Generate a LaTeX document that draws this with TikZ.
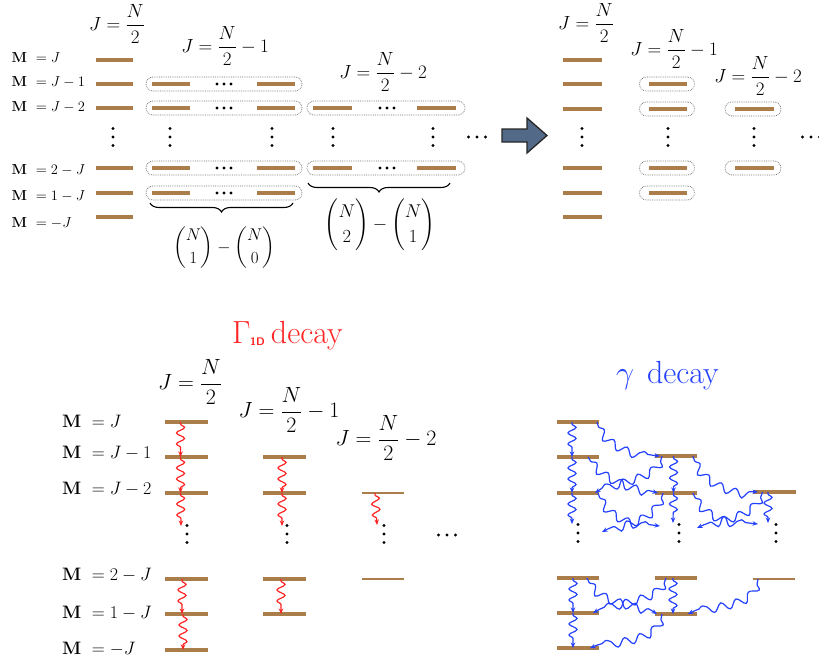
\RequirePackage{fix-cm}
\documentclass[tikz,border=0pt]{standalone}
\usepackage{amsmath}
\usetikzlibrary{decorations.pathmorphing,decorations.pathreplacing,arrows.meta}
\definecolor{brn}{RGB}{170,125,75}
\definecolor{wred}{RGB}{255,35,35}
\definecolor{wblue}{RGB}{35,65,255}
\definecolor{arrfill}{RGB}{82,106,136}
\tikzset{
  lvlbar/.style={fill=brn,inner sep=0pt,minimum height=3.2pt,minimum width=#1},
  lvlbar/.default=38pt,
  dbox/.style={draw=black!55,dash pattern=on 0.8pt off 1pt,line width=0.7pt,rounded corners=7pt,minimum height=14pt,inner sep=0pt},
  vdotsp/.pic={\foreach \k in {-8.5,0,8.5} \fill (0,\k) circle (1.7pt);},
  hdotsp/.pic={\foreach \k in {-8.5,0,8.5} \fill (\k,0) circle (1.7pt);},
  bdotsp/.pic={\foreach \k in {-7,0,7} \fill (\k,0) circle (1.6pt);},
  mlab/.style={font=\fontsize{14.5}{16}\selectfont,inner sep=0pt,anchor=base west},
  mlabB/.style={font=\fontsize{18}{20}\selectfont,inner sep=0pt,anchor=base west},
  jlab/.style={font=\fontsize{19}{22}\selectfont,inner sep=0pt},
  jlabB/.style={font=\fontsize{22}{26}\selectfont,inner sep=0pt},
  bigarrow/.style={fill=arrfill,draw=black!85,line width=1.3pt,line join=miter},
  brc/.style={decorate,decoration={brace,mirror,amplitude=9pt},line width=1.1pt},
  wavyR/.style={draw=wred,line width=1.2pt,decorate,decoration={snake,amplitude=4pt,segment length=11pt,pre length=2pt,post length=5pt},-{Stealth[length=5.5pt,width=4.5pt]}},
  wavyB/.style={draw=wblue,line width=1.2pt,decorate,decoration={snake,amplitude=4pt,segment length=11pt,pre length=2pt,post length=5pt},-{Stealth[length=5.5pt,width=4.5pt]}},
  wavyD/.style={draw=wblue,line width=1.2pt,decorate,decoration={snake,amplitude=4pt,segment length=16pt,pre length=5pt,post length=7pt},-{Stealth[length=5.5pt,width=4.5pt]}},
}
\begin{document}
\begin{tikzpicture}[x=1pt,y=-1pt]
\fill[white] (0,0) rectangle (819,664);
\useasboundingbox (0,0) rectangle (819,664);

%% ---------------- top left ----------------
\node[jlab] (ja) at (117,24) {$J=\dfrac{N}{2}$};
\node[jlab] (jb) at (225,46) {$J=\dfrac{N}{2}-1$};
\node[jlab] (jc) at (383,72) {$J=\dfrac{N}{2}-2$};

\node[mlab] (la1) at (11.5,62) {$\mathbf{M}\ = J$};
\node[mlab] (la2) at (11.5,86) {$\mathbf{M}\ = J-1$};
\node[mlab] (la3) at (11.5,111) {$\mathbf{M}\ = J-2$};
\node[mlab] (la4) at (11.5,174) {$\mathbf{M}\ = 2-J$};
\node[mlab] (la5) at (11.5,200) {$\mathbf{M}\ = 1-J$};
\node[mlab] (la6) at (11.5,227) {$\mathbf{M}\ = -J$};

\foreach \n/\y in {1/60,2/84,3/108,4/168,5/193,6/217}
  \node[lvlbar=37pt] (a\n) at (114.5,\y) {};

\foreach \n/\y in {2/84,3/108,4/168,5/193}{
  \node[dbox,minimum width=156pt] (bx\n) at (224,\y) {};
  \node[lvlbar] (bl\n) at (171,\y) {};
  \node[lvlbar] (br\n) at (276,\y) {};
  \pic (bd\n) at (224,\y) {bdotsp};
}
\foreach \n/\y in {3/108,4/168}{
  \node[dbox,minimum width=158pt] (cx\n) at (386,\y) {};
  \node[lvlbar=39pt] (cl\n) at (332.5,\y) {};
  \node[lvlbar=39pt] (cr\n) at (436.5,\y) {};
  \pic (cd\n) at (387,\y) {bdotsp};
}
\pic (va1) at (113,137) {vdotsp};
\pic (va2) at (170,137) {vdotsp};
\pic (va3) at (272,137) {vdotsp};
\pic (va4) at (333,137) {vdotsp};
\pic (va5) at (433,137) {vdotsp};
\pic (ha1) at (477,137) {hdotsp};

\coordinate (b1s) at (150,203);
\coordinate (b1e) at (293,203);
\coordinate (b2s) at (308,183);
\coordinate (b2e) at (450,183);
\draw[brc] (b1s) -- (b1e);
\draw[brc] (b2s) -- (b2e);
\node[font=\fontsize{17}{20}\selectfont,inner sep=0pt] (bin1) at (224,248) {$\dbinom{N}{1}-\dbinom{N}{0}$};
\node[font=\fontsize{18.5}{22}\selectfont,inner sep=0pt] (bin2) at (380,225) {$\dbinom{N}{2}-\dbinom{N}{1}$};

%% ---------------- big arrow ----------------
\draw[bigarrow] (502,129) -- (527,129) -- (527,118) -- (547,135.5) -- (527,153) -- (527,142) -- (502,142) -- cycle;

%% ---------------- top right ----------------
\node[jlab] (jd) at (586,23) {$J=\dfrac{N}{2}$};
\node[jlab] (je) at (674,49) {$J=\dfrac{N}{2}-1$};
\node[jlab] (jf) at (758,76) {$J=\dfrac{N}{2}-2$};
\foreach \n/\y in {1/60,2/84,3/109,4/168,5/193,6/217}
  \node[lvlbar=39pt] (c\n) at (582.5,\y) {};
\foreach \n/\y in {2/84,3/109,4/168,5/193}{
  \node[dbox,minimum width=55pt] (dx\n) at (667,\y) {};
  \node[lvlbar] (dl\n) at (668,\y) {};
}
\foreach \n/\y in {3/109,4/168}{
  \node[dbox,minimum width=56pt] (ex\n) at (753,\y) {};
  \node[lvlbar=39pt] (el\n) at (754.5,\y) {};
}
\pic (vb1) at (582,137) {vdotsp};
\pic (vb2) at (668,137) {vdotsp};
\pic (vb3) at (754,137) {vdotsp};
\pic (hb1) at (811,137) {hdotsp};

%% ---------------- bottom left ----------------
\node[font=\fontsize{32}{36}\selectfont,text=wred,anchor=base west,inner sep=0pt] (gtitle) at (232,343)
  {$\Gamma$\kern-0.5pt\raisebox{-2.5pt}{\fontsize{11}{11}\selectfont\sffamily\bfseries 1D}\kern6pt decay};
\node[jlabB] (jg) at (190,382) {$J=\dfrac{N}{2}$};
\node[jlabB] (jh) at (289,410) {$J=\dfrac{N}{2}-1$};
\node[jlabB] (ji) at (386,438) {$J=\dfrac{N}{2}-2$};

\node[mlabB] (lb1) at (62,427) {$\mathbf{M}\ = J$};
\node[mlabB] (lb2) at (62,458) {$\mathbf{M}\ = J-1$};
\node[mlabB] (lb3) at (62,494) {$\mathbf{M}\ = J-2$};
\node[mlabB] (lb4) at (62,580) {$\mathbf{M}\ = 2-J$};
\node[mlabB] (lb5) at (62,618) {$\mathbf{M}\ = 1-J$};
\node[mlabB] (lb6) at (62,654) {$\mathbf{M}\ = -J$};

\foreach \n/\y in {1/422,2/457,3/493,4/579,5/614,6/650}
  \node[lvlbar=43pt,minimum height=3.8pt] (r1\n) at (186.5,\y) {};
\foreach \n/\y in {2/457,3/493,4/579,5/614}
  \node[lvlbar=43pt,minimum height=3.8pt] (r2\n) at (284.5,\y) {};
\foreach \n/\y in {3/493,4/579}
  \node[lvlbar=42pt,minimum height=2.8pt] (r3\n) at (383,\y) {};
\pic (vc1) at (187,534) {vdotsp};
\pic (vc2) at (287,534) {vdotsp};
\pic (vc3) at (384,534) {vdotsp};
\pic (hc1) at (447,535) {hdotsp};
\coordinate (rc1) at (181,526);
\coordinate (rc2) at (282,526);
\coordinate (rc3) at (377,525);

\draw[wavyR] ([xshift=-6]r11.center) -- ([xshift=-6]r12.center);
\draw[wavyR] ([xshift=-6]r12.center) -- ([xshift=-6]r13.center);
\draw[wavyR] ([xshift=-6]r13.center) -- (rc1);
\draw[wavyR] ([xshift=-2.5]r22.center) -- ([xshift=-2.5]r23.center);
\draw[wavyR] ([xshift=-2.5]r23.center) -- (rc2);
\draw[wavyR] ([xshift=-8]r33.center) -- (rc3);
\draw[wavyR] ([xshift=-4.5]r14.center) -- ([xshift=-4.5]r15.center);
\draw[wavyR] ([xshift=-3.5]r15.center) -- ([xshift=-3.5]r16.center);
\draw[wavyR] ([xshift=-3.5]r24.center) -- ([xshift=-3.5]r25.center);

%% ---------------- bottom right ----------------
\node[font=\fontsize{32}{36}\selectfont,text=wblue,anchor=base west,inner sep=0pt] (gdec) at (616,383)
  {$\gamma$\hspace{0.4em}decay};
\foreach \n/\y in {1/422,2/457,3/493,4/578,5/613,6/648}
  \node[lvlbar=42pt,minimum height=3.8pt] (g1\n) at (578,\y) {};
\foreach \n/\y in {2/456,3/493,4/578,5/614}
  \node[lvlbar=42pt,minimum height=3.8pt] (g2\n) at (676,\y) {};
\node[lvlbar=43pt,minimum height=3.8pt] (g33) at (774.5,492) {};
\node[lvlbar=42pt,minimum height=2.8pt] (g34) at (773.5,579) {};
\pic (vd1) at (578,533) {vdotsp};
\pic (vd2) at (679,533) {vdotsp};
\pic (vd3) at (776,533) {vdotsp};

\coordinate (gc1) at (572,524);
\coordinate (gc2) at (673,523);
\coordinate (gc3) at (768,523);
\coordinate (e5) at (660,526);
\coordinate (e6) at (602,532);
\coordinate (e7) at (758,524);
\coordinate (e8) at (697,528);

\draw[wavyB] ([xshift=-6]g11.center) -- ([xshift=-6]g12.center);
\draw[wavyB] ([xshift=-6]g12.center) -- ([xshift=-6]g13.center);
\draw[wavyB] ([xshift=-6]g13.center) -- (gc1);
\draw[wavyB] ([xshift=-2.5]g22.center) -- ([xshift=-2.5]g23.center);
\draw[wavyB] ([xshift=-2.5]g23.center) -- (gc2);
\draw[wavyB] ([xshift=-6.5]g33.center) -- (gc3);
\draw[wavyB] ([xshift=-5]g14.center) -- ([xshift=-5]g15.center);
\draw[wavyB] ([xshift=-5]g15.center) -- ([xshift=-5]g16.center);
\draw[wavyB] ([xshift=-3]g24.center) -- ([xshift=-3]g25.center);

\draw[wavyD] ([xshift=19]g11.center) .. controls (600,442) and (640,455) .. ([xshift=-16]g22.center);
\draw[wavyD] ([xshift=10]g12.center) .. controls (598,478) and (640,488) .. ([xshift=-18]g23.center);
\draw[wavyD] ([xshift=-14]g22.center) .. controls (660,478) and (612,478) .. ([xshift=17]g13.center);
\draw[wavyD] ([xshift=17]g22.center) .. controls (698,480) and (735,492) .. ([xshift=-16.5]g33.center);
\draw[wavyD] ([xshift=20]g13.center) .. controls (604,516) and (640,524) .. (e5);
\draw[wavyD] ([xshift=-13]g23.center) .. controls (657,520) and (622,520) .. (e6);
\draw[wavyD] ([xshift=17]g23.center) .. controls (700,515) and (735,522) .. (e7);
\draw[wavyD] ([xshift=-12]g33.center) .. controls (757,515) and (722,515) .. (e8);
\draw[wavyD] ([xshift=9]g14.center) .. controls (595,602) and (640,600) .. ([xshift=-19]g25.center);
\draw[wavyD] ([xshift=-10]g24.center) .. controls (662,600) and (615,598) .. ([xshift=15]g15.center);
\draw[wavyD] ([xshift=-15.5]g34.center) .. controls (756,606) and (712,600) .. ([xshift=12]g25.center);
\draw[wavyD] ([xshift=-14]g25.center) .. controls (660,640) and (615,636) .. ([xshift=12]g16.center);
\end{tikzpicture}
\end{document}
